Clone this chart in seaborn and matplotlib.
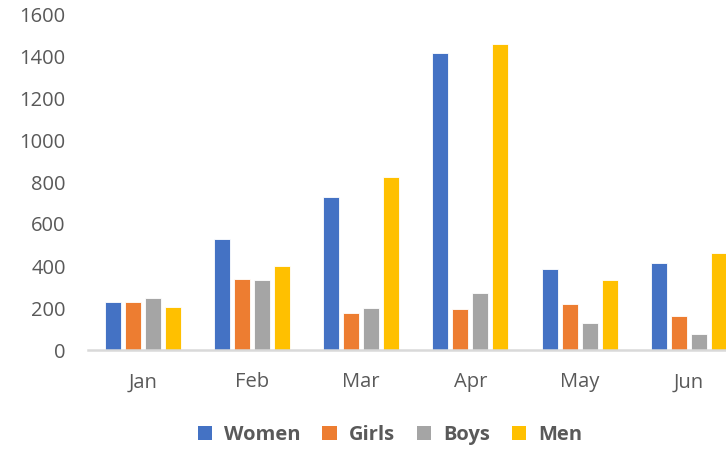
import matplotlib

matplotlib.use("Agg")

import matplotlib.pyplot as plt
import pandas as pd
import seaborn as sns
from matplotlib.patches import Patch

months = ["Jan", "Feb", "Mar", "Apr", "May", "Jun"]
series = ["Women", "Girls", "Boys", "Men"]
women = [230, 530, 727, 1414, 384, 413]
girls = [230, 338, 176, 195, 219, 162]
boys = [248, 333, 198, 270, 130, 78]
men = [203, 400, 824, 1457, 333, 462]
colors = ["#4472C4", "#ED7D31", "#A5A5A5", "#FFC000"]

values = {"Women": women, "Girls": girls, "Boys": boys, "Men": men}
df = pd.DataFrame(
    [(m, s, values[s][i]) for s in series for i, m in enumerate(months)],
    columns=["month", "series", "value"],
)

sns.set_theme(style="white")
plt.rcParams["font.family"] = ["Open Sans", "DejaVu Sans"]
text_color = "#595959"

fig = plt.figure(figsize=(7.26, 4.51), dpi=100)
ax = fig.add_axes([88 / 726, 1 - 350 / 451, 1 - 88 / 726, 336 / 451])

sns.barplot(
    data=df,
    x="month",
    y="value",
    hue="series",
    order=months,
    hue_order=series,
    palette=colors,
    width=0.733,
    gap=0.2,
    saturation=1,
    edgecolor="white",
    linewidth=0.6,
    legend=False,
    ax=ax,
)

ax.set_xlim(-0.5, 5.34)
ax.set_ylim(0, 1600)
ax.set_yticks(range(0, 1601, 200))
ax.set_xlabel("")
ax.set_ylabel("")
for side in ["top", "right", "left"]:
    ax.spines[side].set_visible(False)
ax.spines["bottom"].set_color("#D9D9D9")
ax.spines["bottom"].set_linewidth(1.8)
ax.tick_params(axis="y", length=0, pad=16, labelsize=14.5, labelcolor=text_color)
ax.tick_params(axis="x", length=0, pad=16, labelsize=14.5, labelcolor=text_color)
ax.grid(False)

handles = [Patch(facecolor=c, edgecolor="none") for c in colors]
fig.legend(
    handles,
    series,
    loc="center",
    bbox_to_anchor=(390 / 726, 1 - 435 / 451),
    ncol=4,
    frameon=False,
    handlelength=0.7,
    handleheight=0.7,
    handletextpad=0.6,
    columnspacing=1.1,
    prop={"weight": "bold", "size": 14.5},
    labelcolor=text_color,
)

fig.savefig("out.png", dpi=100)
